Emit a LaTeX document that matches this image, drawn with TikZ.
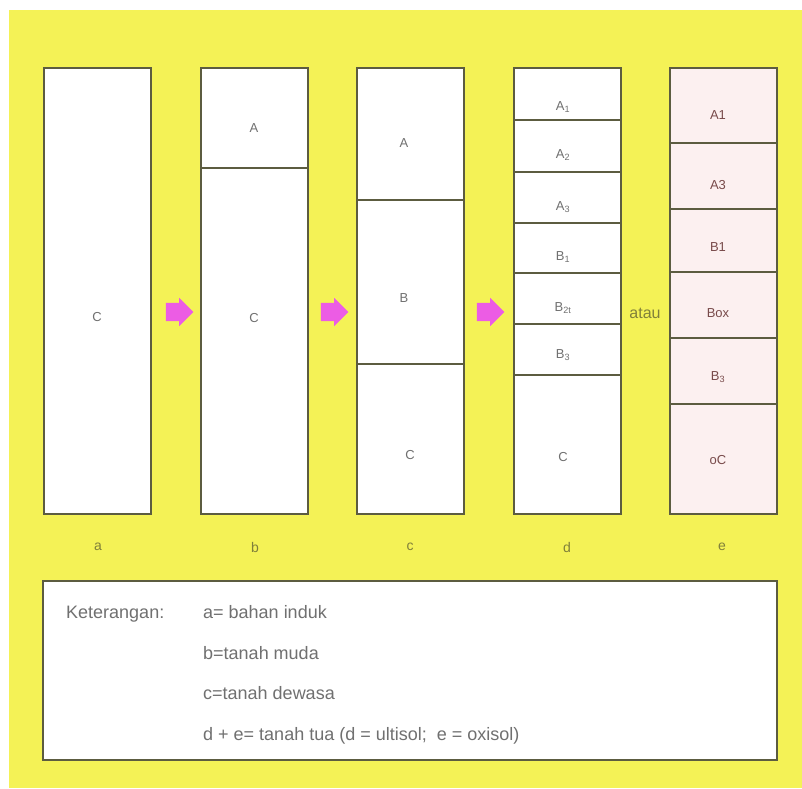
\documentclass[tikz,border=0pt]{standalone}
\usepackage{fontspec}
\setmainfont{Liberation Sans}
\usepackage{tikz}
\usetikzlibrary{positioning, shapes.arrows}
\definecolor{bgyellow}{RGB}{244,242,86}
\definecolor{edgegray}{RGB}{92,92,64}
\definecolor{pinkfill}{RGB}{252,240,240}
\definecolor{arrowpink}{RGB}{236,92,228}
\definecolor{txtgray}{RGB}{112,112,112}
\definecolor{txtbrown}{RGB}{120,74,74}
\definecolor{txtolive}{RGB}{128,128,58}
\tikzstyle{layer} = [rectangle, draw=edgegray, line width=1.8pt, fill=white, minimum width=107pt, inner sep=0pt, outer sep=0pt, anchor=north]
\tikzstyle{layere} = [layer, fill=pinkfill]
\tikzstyle{lbl} = [text=txtgray, font=\fontsize{13}{15}\selectfont]
\tikzstyle{lble} = [text=txtbrown, font=\fontsize{13}{15}\selectfont]
\tikzstyle{colname} = [text=txtolive, font=\fontsize{14}{16}\selectfont]
\tikzstyle{panah} = [single arrow, draw=none, fill=arrowpink, minimum height=26pt, minimum width=28pt, single arrow head extend=5pt, inner sep=9pt]
\tikzstyle{ket} = [text=txtgray, anchor=base west, inner sep=0pt, font=\fontsize{18}{20}\selectfont]

\begin{document}
\begin{tikzpicture}[x=1pt, y=-1pt]
    \useasboundingbox (0,0) rectangle (802,788);
    \fill[bgyellow] (9,10) rectangle (802,788);

    % a
    \node[layer, minimum height=446pt] (a1) at (97.5,68) {};
    \node[lbl] (ta1) at (97,317) {C};

    % b
    \node[layer, minimum height=100pt] (b1) at (254.5,68) {};
    \node[layer, minimum height=346pt, below=0pt of b1] (b2) {};
    \node[lbl] (tb1) at (254,128) {A};
    \node[lbl] (tb2) at (254,318) {C};

    % c
    \node[layer, minimum height=132pt] (c1) at (410.5,68) {};
    \node[layer, minimum height=164pt, below=0pt of c1] (c2) {};
    \node[layer, minimum height=150pt, below=0pt of c2] (c3) {};
    \node[lbl] (tc1) at (404,143) {A};
    \node[lbl] (tc2) at (404,298) {B};
    \node[lbl] (tc3) at (410,455) {C};

    % d
    \node[layer, minimum height=52pt] (d1) at (567.5,68) {};
    \node[layer, minimum height=52pt, below=0pt of d1] (d2) {};
    \node[layer, minimum height=51pt, below=0pt of d2] (d3) {};
    \node[layer, minimum height=50pt, below=0pt of d3] (d4) {};
    \node[layer, minimum height=51pt, below=0pt of d4] (d5) {};
    \node[layer, minimum height=51pt, below=0pt of d5] (d6) {};
    \node[layer, minimum height=139pt, below=0pt of d6] (d7) {};
    \node[lbl] (td1) at (563,107) {A\textsubscript{1}};
    \node[lbl] (td2) at (563,155) {A\textsubscript{2}};
    \node[lbl] (td3) at (563,207) {A\textsubscript{3}};
    \node[lbl] (td4) at (563,257) {B\textsubscript{1}};
    \node[lbl] (td5) at (563,308) {B\textsubscript{2t}};
    \node[lbl] (td6) at (563,355) {B\textsubscript{3}};
    \node[lbl] (td7) at (563,457) {C};

    \node[text=txtolive, font=\fontsize{16}{18}\selectfont] (atau) at (645,313) {atau};

    % e
    \node[layere, minimum height=75pt] (e1) at (723.5,68) {};
    \node[layere, minimum height=66pt, below=0pt of e1] (e2) {};
    \node[layere, minimum height=63pt, below=0pt of e2] (e3) {};
    \node[layere, minimum height=66pt, below=0pt of e3] (e4) {};
    \node[layere, minimum height=66pt, below=0pt of e4] (e5) {};
    \node[layere, minimum height=110pt, below=0pt of e5] (e6) {};
    \node[lble] (te1) at (718,115) {A1};
    \node[lble] (te2) at (718,185) {A3};
    \node[lble] (te3) at (718,247) {B1};
    \node[lble] (te4) at (718,313) {Box};
    \node[lble] (te5) at (718,377) {B\textsubscript{3}};
    \node[lble] (te6) at (718,460) {oC};

    % panah
    \node[panah] (p1) at (175,312) {};
    \node[panah] (p2) at (330,312) {};
    \node[panah] (p3) at (486,312) {};

    % nama kolom
    \node[colname] (na) at (98,547) {a};
    \node[colname] (nb) at (255,547) {b};
    \node[colname] (nc) at (410,547) {c};
    \node[colname] (nd) at (567,547) {d};
    \node[colname] (ne) at (722,547) {e};

    % keterangan
    \node[layer, anchor=center, minimum width=734pt, minimum height=179pt] (kotak) at (410,670.5) {};
    \node[ket] (keterangan) at (66,618) {Keterangan:};
    \node[ket] (ka) at (203,618) {a= bahan induk};
    \node[ket] (kb) at (203,659) {b=tanah muda};
    \node[ket] (kc) at (203,699) {c=tanah dewasa};
    \node[ket] (kde) at (203,740) {d + e= tanah tua (d = ultisol;\ \ e = oxisol)};
\end{tikzpicture}
\end{document}
